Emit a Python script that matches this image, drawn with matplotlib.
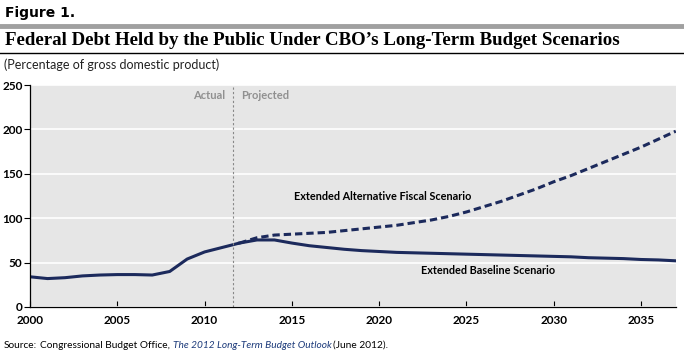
import matplotlib.pyplot as plt
from matplotlib.lines import Line2D

# -----------------------------------
# Data (percentage of GDP)
# -----------------------------------
years_actual = [2000, 2001, 2002, 2003, 2004, 2005, 2006, 2007, 2008, 2009,
                2010, 2011, 2012]
debt_actual = [34, 32, 33, 35, 36, 36.5, 36.5, 36, 40, 54, 62, 67, 72]

years_proj = list(range(2012, 2038))
baseline = [72, 75.5, 75.5, 72, 69, 67, 65, 63.5, 62.5, 61.5, 61, 60.5, 60,
            59.5, 59, 58.5, 58, 57.5, 57, 56.5, 55.5, 55, 54.5, 53.5, 53, 52]
alternative = [72, 78, 81, 82, 83, 84, 86, 88, 90, 92, 95, 98, 102, 107, 113,
               119, 126, 133, 141, 148, 156, 164, 172, 180, 189, 198]

xticks = [2000, 2005, 2010, 2015, 2020, 2025, 2030, 2035]
yticks = [0, 50, 100, 150, 200, 250]

NARROW = ["Lato", "DejaVu Sans"]
NAVY = "#1c2a5c"

# -----------------------------------
# Figure
# -----------------------------------
fig = plt.figure(figsize=(6.84, 3.58), dpi=100)
fig.patch.set_facecolor("white")

fig.text(0.008, 0.963, "Figure 1.", fontsize=10, fontweight="heavy",
         family="DejaVu Sans", va="center", ha="left")
fig.add_artist(Line2D([0, 1], [0.927, 0.927], color="#a0a0a0", lw=3.5))
fig.text(0.008, 0.888, "Federal Debt Held by the Public Under CBO\u2019s Long-Term Budget Scenarios",
         fontsize=13.6, fontweight="bold", family="Liberation Serif",
         va="center", ha="left")
fig.add_artist(Line2D([0, 1], [0.853, 0.853], color="black", lw=1))
fig.text(0.006, 0.82, "(Percentage of gross domestic product)", fontsize=9,
         family=NARROW, va="center", ha="left", color="#222222")

ax = fig.add_axes([0.044, 0.1425, 0.944, 0.62])
ax.set_facecolor("#e6e6e6")

ax.plot(years_actual, debt_actual, color=NAVY, lw=2.2, solid_capstyle="butt")
ax.plot(years_proj, alternative, color=NAVY, lw=2.2, ls=(0, (2.4, 1.3)))
ax.plot(years_proj, baseline, color=NAVY, lw=2.2)

ax.axvline(2011.6, color="#888888", lw=0.8, ls=(0, (2, 2)))

ax.text(2011.2, 238, "Actual", fontsize=8, fontweight="bold", family=NARROW,
        color="#909090", ha="right", va="center")
ax.text(2012.1, 238, "Projected", fontsize=8, fontweight="bold",
        family=NARROW, color="#909090", ha="left", va="center")
ax.text(2015.1, 124, "Extended Alternative Fiscal Scenario", fontsize=7.8,
        fontweight="bold", family=NARROW, ha="left", va="center")
ax.text(2022.4, 41, "Extended Baseline Scenario", fontsize=7.8,
        fontweight="bold", family=NARROW, ha="left", va="center")

ax.set_xlim(2000, 2037)
ax.set_ylim(0, 250)
ax.set_xticks(xticks)
ax.set_yticks(yticks)
ax.yaxis.grid(True, color="white", lw=1.2)
ax.set_axisbelow(True)

for s in ["top", "right"]:
    ax.spines[s].set_visible(False)
for s in ["left", "bottom"]:
    ax.spines[s].set_color("black")
    ax.spines[s].set_linewidth(0.9)

ax.tick_params(axis="x", direction="in", length=4, width=0.8, pad=6)
ax.tick_params(axis="y", direction="out", length=4, width=0.8, pad=1.5)
for lab in ax.get_xticklabels() + ax.get_yticklabels():
    lab.set_fontweight("bold")
    lab.set_fontsize(8.5)
    lab.set_family(NARROW)

# -----------------------------------
# Source line
# -----------------------------------
fig.text(0.005, 0.035, "Source:", fontsize=7.3, family=NARROW,
         va="center", ha="left")
t1 = fig.text(0.0585, 0.035, "Congressional Budget Office, ", fontsize=7.3,
              family=NARROW, va="center", ha="left")
fig.canvas.draw()
bb = t1.get_window_extent().transformed(fig.transFigure.inverted())
t2 = fig.text(bb.x1, 0.035, "The 2012 Long-Term Budget Outlook", fontsize=7.3,
              family=NARROW, style="italic", color="#1c3a7a",
              va="center", ha="left")
fig.canvas.draw()
bb2 = t2.get_window_extent().transformed(fig.transFigure.inverted())
fig.text(bb2.x1 + 0.002, 0.035, "(June 2012).", fontsize=7.3, family=NARROW,
         va="center", ha="left")

fig.savefig("out.png", dpi=100)
